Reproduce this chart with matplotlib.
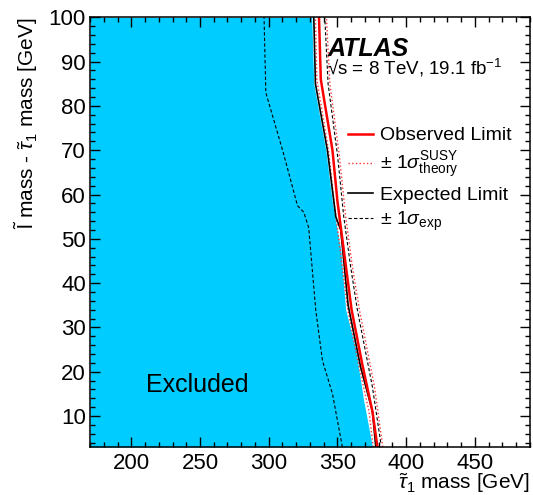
import matplotlib
matplotlib.use('Agg')
import matplotlib.pyplot as plt
from matplotlib.lines import Line2D
from matplotlib.ticker import MultipleLocator

plt.rcParams['font.family'] = ['Liberation Sans', 'DejaVu Sans']
plt.rcParams['mathtext.fontset'] = 'custom'
plt.rcParams['mathtext.rm'] = 'Liberation Sans'
plt.rcParams['mathtext.it'] = 'Liberation Sans:italic'
plt.rcParams['mathtext.bf'] = 'Liberation Sans:bold'

# excluded region edge
excl_y = [3, 13.5, 25, 34, 47.5, 58, 70, 85, 100]
excl_x = [375.5, 369.1, 363.3, 356, 352.4, 346.4, 341.5, 332.8, 331.3]

# observed limit
obs_y = [3, 11, 21.5, 34, 47.5, 58.5, 70, 86, 100]
obs_x = [379.1, 375.5, 368.2, 360.3, 354.6, 350, 346.4, 337.9, 336.6]

# observed +/- 1 sigma theory
th_up_y = [3, 16.5, 34, 43.5, 55, 68.5, 85, 100]
th_up_x = [383, 377, 366, 361, 356, 351.5, 344.5, 342]
th_dn_y = [3, 11, 21.5, 34, 47.5, 58.5, 70, 86, 100]
th_dn_x = [376, 373, 365.5, 357.5, 352, 347.5, 343.5, 335, 334]

# expected limit
exp_y = [3, 11, 21, 35, 52, 55, 70, 85, 100]
exp_x = [377.9, 375.5, 366.9, 357.8, 352.4, 348.8, 342.7, 334, 332.8]

# expected +/- 1 sigma
exp_up_y = [4, 16.5, 34, 43.5, 55, 68.5, 85, 100]
exp_up_x = [381.5, 375.5, 364.5, 359.7, 354.6, 350.2, 343.2, 340.8]
exp_dn_y = [3, 15, 22.5, 34, 52.5, 56, 57.5, 69, 83, 100]
exp_dn_x = [353.6, 346.4, 339.1, 334.2, 329.1, 325.5, 320.9, 311, 297.9, 296.6]

fig = plt.figure(figsize=(5.33, 4.95), dpi=100)
ax = fig.add_axes([0.169, 0.097, 0.825, 0.868])

ax.fill_betweenx(excl_y, 170, excl_x, color='#00ccff', lw=0)
ax.plot(exp_dn_x, exp_dn_y, color='black', ls='--', lw=0.8, dashes=(3, 2))
ax.plot(exp_up_x, exp_up_y, color='black', ls='--', lw=0.8, dashes=(3, 2))
ax.plot(th_dn_x, th_dn_y, color='#ff3333', ls=':', lw=1.0)
ax.plot(th_up_x, th_up_y, color='#ff3333', ls=':', lw=1.0)
ax.plot(exp_x, exp_y, color='black', lw=1.2)
ax.plot(obs_x, obs_y, color='red', lw=1.8)

ax.set_xlim(170, 490)
ax.set_ylim(3, 100)
ax.xaxis.set_major_locator(MultipleLocator(50))
ax.xaxis.set_minor_locator(MultipleLocator(10))
ax.yaxis.set_major_locator(MultipleLocator(10))
ax.yaxis.set_minor_locator(MultipleLocator(2))
ax.tick_params(which='both', direction='in', top=True, right=True, labelsize=16, width=1)
ax.tick_params(which='major', length=7)
ax.tick_params(which='minor', length=3.5)
ax.tick_params(axis='x', pad=4)
ax.tick_params(axis='y', pad=3)
for s in ax.spines.values():
    s.set_linewidth(1.1)

ax.set_xlabel(r'$\tilde{\tau}_1$ mass [GeV]', fontsize=15, ha='right', va='top')
ax.xaxis.set_label_coords(1.0, -0.057)
ax.set_ylabel(r'$\tilde{\mathrm{l}}$ mass - $\tilde{\tau}_1$ mass [GeV]', fontsize=15, loc='top', labelpad=6)

ax.text(248, 17, 'Excluded', fontsize=18, ha='center', va='center')
ax.text(0.539, 0.909, 'ATLAS', transform=ax.transAxes, fontsize=18,
        fontweight='bold', fontstyle='italic')
ax.text(0.539, 0.866, '√s = 8 TeV, 19.1 fb$^{-1}$', transform=ax.transAxes, fontsize=13.5)

handles = [Line2D([], [], color='red', lw=1.8),
           Line2D([], [], color='#ff3333', ls=':', lw=1.0),
           Line2D([], [], color='black', lw=1.2),
           Line2D([], [], color='black', ls='--', lw=0.8, dashes=(3, 2))]
labels = ['Observed Limit', r'$\pm$ 1$\sigma^{\mathrm{SUSY}}_{\mathrm{theory}}$',
          'Expected Limit', r'$\pm$ 1$\sigma_{\mathrm{exp}}$']
ax.legend(handles, labels, loc='upper left', bbox_to_anchor=(0.586, 0.745),
          frameon=False, fontsize=14, handlelength=1.3, handletextpad=0.36,
          labelspacing=0.3, borderaxespad=0, borderpad=0)

fig.savefig('out.png', dpi=100)
